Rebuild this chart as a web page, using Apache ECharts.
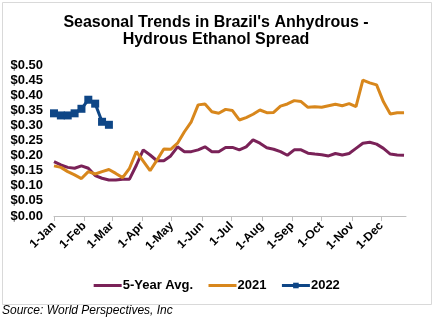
<!DOCTYPE html>
<html>
<head>
<meta charset="utf-8">
<script src="https://cdn.jsdelivr.net/npm/echarts@6/dist/echarts.min.js"></script>
<style>
  html, body { margin: 0; padding: 0; background: #fff; }
  #chart { width: 432px; height: 323px; }
</style>
</head>
<body>
<div id="chart"></div>
<script>
// Weekly spread, USD per litre, one observation every 7 days from 1-Jan
const avg5Year = [0.180, 0.169, 0.161, 0.158, 0.166, 0.158, 0.134, 0.125, 0.119, 0.119, 0.122, 0.122,
  0.168, 0.219, 0.202, 0.183, 0.183, 0.199, 0.229, 0.213, 0.213, 0.219, 0.229, 0.213, 0.213, 0.227,
  0.227, 0.219, 0.229, 0.252, 0.241, 0.226, 0.221, 0.213, 0.201, 0.219, 0.219, 0.208, 0.205, 0.203,
  0.199, 0.207, 0.202, 0.207, 0.224, 0.241, 0.244, 0.238, 0.224, 0.205, 0.202, 0.201];
const y2021 = [0.166, 0.161, 0.147, 0.136, 0.124, 0.147, 0.139, 0.147, 0.154, 0.141, 0.127, 0.158,
  0.213, 0.182, 0.150, 0.185, 0.222, 0.221, 0.241, 0.279, 0.312, 0.368, 0.371, 0.345, 0.340, 0.353,
  0.349, 0.318, 0.326, 0.337, 0.351, 0.342, 0.343, 0.364, 0.371, 0.382, 0.379, 0.360, 0.362, 0.360,
  0.365, 0.370, 0.365, 0.372, 0.362, 0.450, 0.441, 0.434, 0.378, 0.338, 0.342, 0.342];
const y2022 = [0.340, 0.333, 0.333, 0.340, 0.355, 0.385, 0.372, 0.312, 0.302];

// Month tick labels and the day-of-year each falls on
const monthLabels = ['1-Jan', '1-Feb', '1-Mar', '1-Apr', '1-May', '1-Jun', '1-Jul', '1-Aug', '1-Sep', '1-Oct', '1-Nov', '1-Dec'];
const monthStartDays = [0, 31, 59, 90, 120, 151, 181, 212, 243, 273, 304, 334];
const yTicks = [0, 0.05, 0.10, 0.15, 0.20, 0.25, 0.30, 0.35, 0.40, 0.45, 0.50];

const colors = { avg: '#7A2258', y21: '#D8871C', y22: '#0E4686' };

const dayCount = 360;
const days = [];
for (let d = 0; d < dayCount; d++) days.push(String(d));

const weekly = vals => vals.map((v, i) => [i * 7, v]);

const isMonthStart = idx => monthStartDays.indexOf(idx) !== -1;
const font = 'Arial, "Liberation Sans", sans-serif';

const chart = echarts.init(document.getElementById('chart'), null, { renderer: 'canvas' });
chart.setOption({
  backgroundColor: '#fff',
  animation: false,
  title: {
    text: "Seasonal Trends in Brazil's Anhydrous -\nHydrous Ethanol Spread",
    left: 'center',
    top: 9,
    textStyle: { fontFamily: font, fontWeight: 'bold', fontSize: 16, lineHeight: 17, color: '#000' }
  },
  grid: { left: 54, right: 26, top: 65, bottom: 107, containLabel: false },
  xAxis: {
    type: 'category',
    data: days,
    boundaryGap: false,
    axisLine: { lineStyle: { color: '#BFBFBF', width: 1 } },
    axisTick: { show: true, length: 5, interval: isMonthStart, lineStyle: { color: '#BFBFBF' } },
    axisLabel: {
      interval: isMonthStart,
      rotate: 45,
      margin: 8,
      fontFamily: font, fontWeight: 'bold', fontSize: 12, color: '#000',
      formatter: (v) => monthLabels[monthStartDays.indexOf(Number(v))]
    },
    splitLine: { show: false }
  },
  yAxis: {
    type: 'value',
    min: yTicks[0],
    max: yTicks[yTicks.length - 1],
    interval: 0.05,
    axisLine: { show: false },
    axisTick: { show: false },
    splitLine: { show: false },
    axisLabel: {
      margin: 11,
      fontFamily: font, fontWeight: 'bold', fontSize: 13, color: '#000',
      formatter: v => '$' + v.toFixed(2)
    }
  },
  legend: {
    top: 274,
    left: 'center',
    itemWidth: 28,
    itemHeight: 7,
    itemGap: 14,
    textStyle: { fontFamily: font, fontWeight: 'bold', fontSize: 13, color: '#000', padding: [0, 0, 0, -4] },
    data: [
      { name: '5-Year Avg.', itemStyle: { opacity: 0 }, lineStyle: { color: colors.avg, width: 3 } },
      { name: '2021', itemStyle: { opacity: 0 }, lineStyle: { color: colors.y21, width: 3 } },
      { name: '2022', lineStyle: { color: colors.y22, width: 3 } }
    ]
  },
  series: [
    {
      name: '5-Year Avg.', type: 'line', data: weekly(avg5Year),
      symbol: 'none', lineStyle: { color: colors.avg, width: 3 }, itemStyle: { color: colors.avg }
    },
    {
      name: '2021', type: 'line', data: weekly(y2021),
      symbol: 'none', lineStyle: { color: colors.y21, width: 3 }, itemStyle: { color: colors.y21 }
    },
    {
      name: '2022', type: 'line', data: weekly(y2022),
      symbol: 'rect', symbolSize: 8, showSymbol: true, showAllSymbol: true,
      lineStyle: { color: colors.y22, width: 3 }, itemStyle: { color: colors.y22 }
    }
  ],
  graphic: [
    {
      type: 'rect', left: 0, top: 0, silent: true,
      shape: { x: 0.5, y: 0.5, width: 429, height: 302 },
      style: { fill: 'none', stroke: '#D9D9D9', lineWidth: 1 }
    },
    {
      type: 'text', left: 2, top: 305,
      style: { text: 'Source: World Perspectives, Inc', font: 'italic 12px ' + font, fill: '#000' }
    }
  ]
});
</script>
</body>
</html>
